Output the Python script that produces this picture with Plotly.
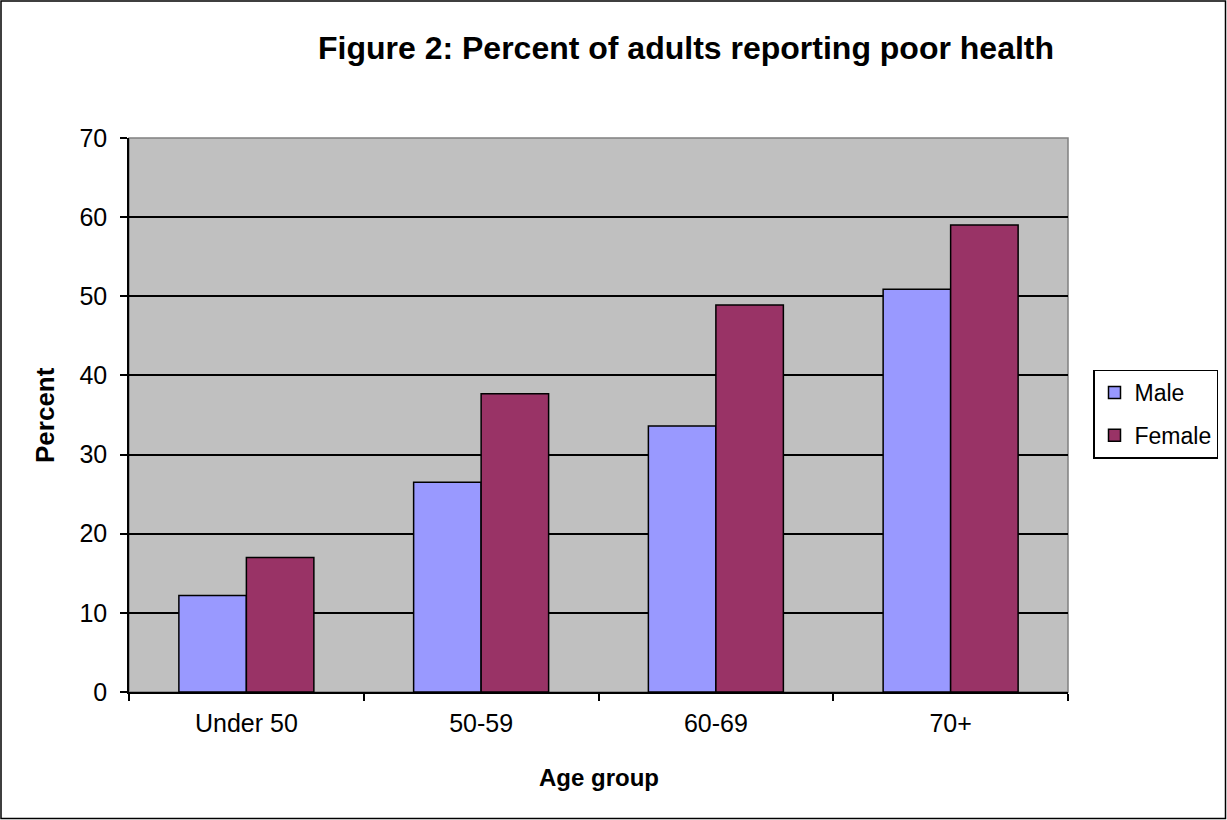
import plotly.graph_objects as go

categories = ["Under 50", "50-59", "60-69", "70+"]
male = [12.2, 26.5, 33.6, 50.9]
female = [17.0, 37.7, 48.9, 59.0]
y_ticks = [0, 10, 20, 30, 40, 50, 60, 70]

W, H = 1227, 820
L, R, T, B = 129, 159, 138, 128
pw = W - L - R
ph = H - T - B

fig = go.Figure()
fig.add_trace(go.Bar(name="Male", x=categories, y=male, legendgroup="m",
                     marker=dict(color="#9999FF", line=dict(color="black", width=1.5))))
fig.add_trace(go.Bar(name="Female", x=categories, y=female, legendgroup="f",
                     marker=dict(color="#993366", line=dict(color="black", width=1.5))))

font = "Liberation Sans, Arial, sans-serif"
fig.update_layout(
    width=W, height=H,
    margin=dict(l=L, r=R, t=T, b=B, autoexpand=False),
    paper_bgcolor="white", plot_bgcolor="#C0C0C0",
    barmode="group", bargap=0.425, bargroupgap=0,
    font=dict(family=font, size=25, color="black"),
    title=dict(text="<b>Figure 2: Percent of adults reporting poor health</b>",
               x=686 / W, xanchor="center", xref="container",
               y=1 - 48 / H, yanchor="middle", yref="container",
               font=dict(size=32, family=font, color="black")),
    legend=dict(x=(1093 - L) / pw, xanchor="left", y=(692 - 414) / ph, yanchor="middle",
                bgcolor="white", bordercolor="black", borderwidth=1.5,
                font=dict(size=23), tracegroupgap=10),
    showlegend=True,
)
fig.update_xaxes(
    type="category", showgrid=False, showline=True, linecolor="black", linewidth=1.5,
    ticks="outside", tickson="boundaries", ticklen=7, tickcolor="black", tickwidth=1.5,
    tickfont=dict(size=25), ticklabelstandoff=8,
)
fig.update_yaxes(
    range=[0, 70], tickvals=y_ticks, showgrid=True, gridcolor="black", gridwidth=1.5,
    showline=True, linecolor="black", linewidth=1.5, zeroline=False,
    ticks="outside", ticklen=7, tickcolor="black", tickwidth=1.5,
    tickfont=dict(size=25), ticklabelstandoff=8,
)
# axis titles
fig.add_annotation(text="<b>Age group</b>", xref="paper", yref="paper",
                   x=0.5, y=-(777 - 692) / ph, xanchor="center", yanchor="middle",
                   showarrow=False, font=dict(size=24))
fig.add_annotation(text="<b>Percent</b>", xref="paper", yref="paper",
                   x=(45 - L) / pw, y=0.5, xanchor="center", yanchor="middle",
                   textangle=-90, showarrow=False, font=dict(size=26))
# plot area border (gray) and outer chart border
fig.add_shape(type="rect", xref="paper", yref="paper", x0=0, x1=1, y0=0, y1=1,
              line=dict(color="#808080", width=1.5), layer="below")
fig.add_shape(type="rect", xref="paper", yref="paper",
              x0=(-L + 1) / pw, x1=(W - L - 1.5) / pw,
              y0=(-B + 1.5) / ph, y1=(H - B - 1) / ph,
              line=dict(color="black", width=1.5))

fig.write_html("out.html")
